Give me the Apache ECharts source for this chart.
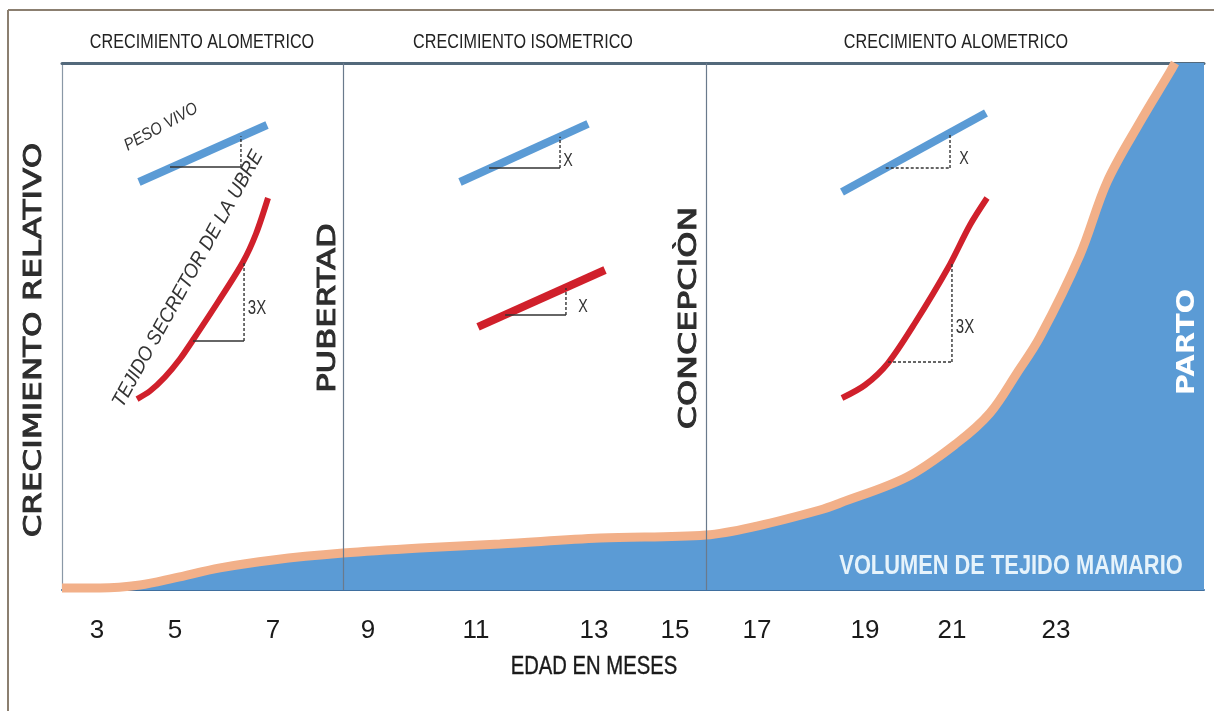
<!DOCTYPE html>
<html>
<head>
<meta charset="utf-8">
<script src="https://cdn.jsdelivr.net/npm/echarts@6/dist/echarts.min.js"></script>
<style>
html,body{margin:0;padding:0;background:#fff;}
#chart{width:1214px;height:711px;}
</style>
</head>
<body>
<div id="chart"></div>
<script>
// ---- DATA (x in axis position units 0..100, y in relative growth 0..100) ----
const tickPos    = [3.06, 9.89, 18.48, 26.80, 36.25, 46.58, 53.68, 60.86, 70.32, 77.93, 87.04];
const tickLabels = ['3', '5', '7', '9', '11', '13', '15', '17', '19', '21', '23'];

const volumeX = [0, 3.33, 6.83, 9.89, 13.84, 18.48, 24.61, 31.35, 38.35, 47.11, 56.39, 60.86, 66.37, 68.13, 73.99, 78.37, 81.26, 83.63, 85.64, 89.14, 91.51, 94.40, 97.02, 97.46];
const volumeY = [0.4, 0.4, 0.95, 2.3, 4.2, 5.7, 7.0, 7.97, 8.73, 9.87, 10.44, 12.14, 15.18, 16.51, 21.44, 27.89, 33.59, 41.18, 48.01, 63.57, 77.42, 88.80, 98.29, 100];
const volumeEnd = [100, 100];

const pubertadX = 24.6;
const concepcionX = 56.4;

// inset 1 (alometrico)
const peso1X = [6.74, 17.95];
const peso1Y = [77.42, 88.24];
const peso1TriH = [[9.46, 80.27], [15.67, 80.27]];
const peso1TriV = [[15.67, 80.27], [15.67, 86.1]];
const ubre1X = [6.57, 7.71, 9.02, 10.33, 11.47, 13.66, 15.85, 16.99, 18.04];
const ubre1Y = [36.24, 37.76, 40.42, 43.83, 47.44, 54.65, 62.24, 67.6, 74.38];
const ubre1TriH = [[11.47, 47.25], [15.94, 47.25]];
const ubre1TriV = [[15.94, 47.25], [15.94, 62.4]];

// inset 2 (isometrico)
const peso2X = [34.85, 46.06];
const peso2Y = [77.42, 88.43];
const peso2TriH = [[37.4, 80.08], [43.61, 80.08]];
const peso2TriV = [[43.61, 80.08], [43.61, 86.0]];
const ubre2X = [36.43, 47.55];
const ubre2Y = [49.91, 60.72];
const ubre2TriH = [[38.8, 52.18], [44.13, 52.18]];
const ubre2TriV = [[44.13, 52.18], [44.13, 57.3]];

// inset 3 (alometrico)
const peso3X = [68.30, 80.91];
const peso3Y = [75.52, 90.51];
const peso3TriH = [[72.13, 80.08], [77.76, 80.08]];
const peso3TriV = [[77.76, 80.08], [77.76, 86.7]];
const ubre3X = [68.30, 70.32, 72.33, 74.69, 77.58, 79.51, 81.0];
const ubre3Y = [36.43, 38.90, 43.07, 50.66, 61.10, 69.26, 74.38];
const ubre3TriH = [[72.33, 43.26], [77.93, 43.26]];
const ubre3TriV = [[77.93, 43.26], [77.93, 62.2]];

// ---- CHART ----
const zip = (xs, ys) => xs.map((x, i) => [x, ys[i]]);
const BLUE = '#5B9BD5', RED = '#D0202B', TAN = '#F2B089', INK = '#333333';
const NARROW = "'Liberation Sans', Arial, sans-serif";
const WIDE = "'DejaVu Sans', 'Open Sans', sans-serif";

function seg(data, dashed, color, width) {
  return {
    type: 'line', data: data, showSymbol: false, silent: true, z: 5,
    lineStyle: { color: color || INK, width: width || 1.4, type: dashed ? [3, 2] : 'solid' }
  };
}
function thick(xs, ys, color, width, smooth) {
  return {
    type: 'line', data: zip(xs, ys), showSymbol: false, silent: true, z: 4,
    smooth: smooth || false,
    lineStyle: { color: color, width: width, cap: 'butt' }
  };
}
function txt(x, y, text, opt) {
  opt = opt || {};
  const style = {
    text: text, fontFamily: opt.font || NARROW, fontSize: opt.size || 16,
    fontWeight: opt.weight || 'normal', fontStyle: opt.style || 'normal',
    fill: opt.fill || '#222', textAlign: 'center', textVerticalAlign: 'middle'
  };
  if (opt.stroke) { style.stroke = opt.fill || '#222'; style.lineWidth = opt.stroke; }
  return {
    type: 'text', x: x, y: y, silent: true, z: opt.z || 10,
    rotation: (opt.rot || 0) * Math.PI / 180,
    scaleX: opt.sx || 1,
    style: style
  };
}

const chart = echarts.init(document.getElementById('chart'), null, { renderer: 'canvas' });

const option = {
  animation: false,
  backgroundColor: '#ffffff',
  grid: { left: 62, right: 10, top: 63, bottom: 121 },
  xAxis: [{
    type: 'value', min: 0, max: 100,
    axisLine: { show: true, onZero: false, lineStyle: { color: '#3f6f9f', width: 2 } },
    axisTick: { show: false },
    splitLine: { show: false },
    axisLabel: {
      customValues: tickPos,
      margin: 28,
      fontFamily: NARROW, fontSize: 26, color: '#1a1a1a',
      formatter: function (v) {
        let best = 0, d = 1e9;
        tickPos.forEach((p, i) => { if (Math.abs(p - v) < d) { d = Math.abs(p - v); best = i; } });
        return tickLabels[best];
      }
    }
  }, {
    type: 'value', min: 0, max: 100, position: 'top',
    axisLine: { show: true, onZero: false, lineStyle: { color: '#53697b', width: 3 } },
    axisTick: { show: false }, axisLabel: { show: false }, splitLine: { show: false }
  }],
  yAxis: {
    type: 'value', min: 0, max: 100,
    axisLine: { show: true, onZero: false, lineStyle: { color: '#8a98a6', width: 1.2 } },
    axisTick: { show: false }, axisLabel: { show: false }, splitLine: { show: false }
  },
  series: [
    {
      name: 'area', type: 'line', data: zip(volumeX, volumeY).concat([volumeEnd]),
      smooth: 0.35, showSymbol: false, silent: true, z: 2,
      lineStyle: { width: 0 },
      areaStyle: { color: BLUE, opacity: 1 },
      markLine: {
        silent: true, symbol: ['none', 'none'], label: { show: false },
        lineStyle: { color: '#6a7a8c', width: 1.2, type: 'solid' },
        data: [{ xAxis: pubertadX }, { xAxis: concepcionX }]
      }
    },
    {
      name: 'volumen', type: 'line', data: zip(volumeX, volumeY),
      smooth: 0.35, showSymbol: false, silent: true, z: 3, clip: false,
      lineStyle: { color: TAN, width: 9 }
    },
    thick(peso1X, peso1Y, BLUE, 8),
    seg(peso1TriH, false), seg(peso1TriV, true),
    thick(ubre1X, ubre1Y, RED, 6, 0.3),
    seg(ubre1TriH, false), seg(ubre1TriV, true),
    thick(peso2X, peso2Y, BLUE, 8),
    seg(peso2TriH, false), seg(peso2TriV, true),
    thick(ubre2X, ubre2Y, RED, 8),
    seg(ubre2TriH, false), seg(ubre2TriV, true),
    thick(peso3X, peso3Y, BLUE, 8),
    seg(peso3TriH, true), seg(peso3TriV, true),
    thick(ubre3X, ubre3Y, RED, 6, 0.3),
    seg(ubre3TriH, true), seg(ubre3TriV, true)
  ],
  graphic: [
    // outer frame
    { type: 'line', shape: { x1: 8, y1: 10, x2: 1214, y2: 10 }, style: { stroke: '#8b7f70', lineWidth: 2 }, silent: true },
    { type: 'line', shape: { x1: 8, y1: 10, x2: 8, y2: 711 }, style: { stroke: '#8b7f70', lineWidth: 2 }, silent: true },
    // headers
    txt(202, 42, 'CRECIMIENTO ALOMETRICO', { size: 21, sx: 0.77 }),
    txt(523, 42, 'CRECIMIENTO ISOMETRICO', { size: 21, sx: 0.77 }),
    txt(956, 42, 'CRECIMIENTO ALOMETRICO', { size: 21, sx: 0.77 }),
    // axis titles
    txt(34, 340, 'CRECIMIENTO RELATIVO', { font: WIDE, size: 25, rot: 90, sx: 1.3, fill: '#2d2d2d', stroke: 0.9 }),
    txt(594, 667, 'EDAD EN MESES', { size: 25, sx: 0.81, fill: '#1a1a1a', stroke: 0.4 }),
    // event labels
    txt(328, 308, 'PUBERTAD', { font: WIDE, size: 25, rot: 90, sx: 1.29, fill: '#2d2d2d', stroke: 0.9 }),
    txt(689, 318, 'CONCEPCIÒN', { font: WIDE, size: 25, rot: 90, sx: 1.33, fill: '#2d2d2d', stroke: 0.9 }),
    txt(1187, 342, 'PARTO', { font: WIDE, size: 25, weight: 'bold', rot: 90, sx: 1.16, fill: '#ffffff' }),
    txt(1011, 566, 'VOLUMEN DE TEJIDO MAMARIO', { size: 28, weight: 'bold', sx: 0.78, fill: '#e6f3fb' }),
    // inset labels
    txt(161, 127, 'PESO VIVO', { size: 17, sx: 0.88, style: 'italic', rot: 29, fill: '#333' }),
    txt(188, 279, 'TEJIDO SECRETOR DE LA UBRE', { size: 20, sx: 0.93, style: 'italic', rot: 61, fill: '#333' }),
    txt(257, 308, '3X', { size: 20, sx: 0.75, fill: '#333' }),
    txt(568, 161, 'X', { size: 19, sx: 0.75, fill: '#333' }),
    txt(583, 307, 'X', { size: 19, sx: 0.75, fill: '#333' }),
    txt(964, 159, 'X', { size: 19, sx: 0.75, fill: '#333' }),
    txt(965, 327, '3X', { size: 20, sx: 0.75, fill: '#333' })
  ]
};
chart.setOption(option);
</script>
</body>
</html>
